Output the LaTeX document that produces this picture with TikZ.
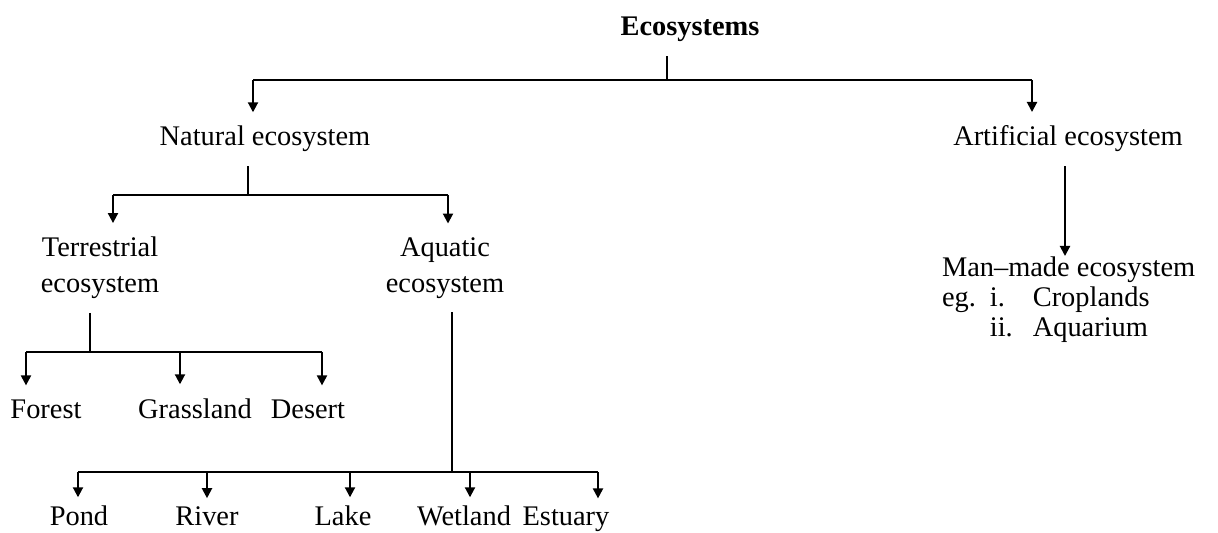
\documentclass[tikz,border=0pt]{standalone}
\usepackage{fontspec}
\setmainfont{Liberation Serif}
\usetikzlibrary{arrows.meta}

\begin{document}
\begin{tikzpicture}[x=0.5pt,y=-0.5pt,line width=1pt,
    lbl/.style={font=\fontsize{14.2}{18}\selectfont, inner sep=0pt, outer sep=7pt, align=center},
    leaf/.style={lbl, anchor=base, outer sep=4pt},
    arr/.style={-{Triangle[length=5pt,width=5pt]}}]
\useasboundingbox (0,0) rectangle (1218,533);
    % headings
    \node[lbl, font=\bfseries\fontsize{14.2}{18}\selectfont, anchor=base] (eco) at (690,36) {Ecosystems};
    \node[lbl, anchor=base] (nat) at (265,146) {Natural ecosystem};
    \node[lbl, anchor=base] (art) at (1068,146) {Artificial ecosystem};
    \node[lbl] (ter) at (100,268) {Terrestrial\\ecosystem};
    \node[lbl] (aq) at (445,268) {Aquatic\\ecosystem};
    \node[lbl, anchor=north west, outer sep=0pt] (man) at (942,256) {\fontsize{14.2}{15}\selectfont
        \begin{tabular}{@{}l@{\hspace{7pt}}l@{\hspace{10pt}}l@{}}
        \multicolumn{3}{@{}l@{}}{Man--made ecosystem}\\
        eg. & i. & Croplands\\
            & ii. & Aquarium
        \end{tabular}};
    % leaves
    \node[lbl, anchor=base] (forest) at (46,418) {Forest};
    \node[lbl, anchor=base] (grass) at (195,418) {Grassland};
    \node[lbl, anchor=base] (desert) at (308,418) {Desert};
    \node[leaf] (pond) at (79,525) {Pond};
    \node[leaf] (river) at (207,525) {River};
    \node[leaf] (lake) at (343,525) {Lake};
    \node[leaf] (wet) at (464,525) {Wetland};
    \node[leaf] (est) at (566,525) {Estuary};
    % junctions
    \coordinate (j0) at (667,80);
    \coordinate (nl) at (253,80);
    \coordinate (nr) at (1032,80);
    \coordinate (j1) at (248,195);
    \coordinate (tl) at (113,195);
    \coordinate (tr) at (448,195);
    \coordinate (j2) at (90,352);
    \coordinate (j3) at (452,472);
    % top level
    \draw (eco.south -| j0) -- (j0);
    \draw (nl) -- (nr);
    \draw[arr] (nl) -- (nl |- nat.north);
    \draw[arr] (nr) -- (nr |- art.north);
    \draw[arr] (art.south -| 1065,0) -- (man.north -| 1065,0);
    % natural
    \draw (nat.south -| j1) -- (j1);
    \draw (tl) -- (tr);
    \draw[arr] (tl) -- (tl |- ter.north);
    \draw[arr] (tr) -- (tr |- aq.north);
    % terrestrial
    \draw (ter.south -| j2) -- (j2);
    \draw (26,352) -- (322,352);
    \foreach \n/\x in {forest/26,grass/180,desert/322}
        \draw[arr] (\x,352) -- (\x,352 |- \n.north);
    % aquatic
    \draw (aq.south -| j3) -- (j3);
    \draw (78,472) -- (598,472);
    \foreach \n/\x in {pond/78,river/207,lake/350,wet/470,est/598}
        \draw[arr] (\x,472) -- (\x,472 |- \n.north);
\end{tikzpicture}
\end{document}
